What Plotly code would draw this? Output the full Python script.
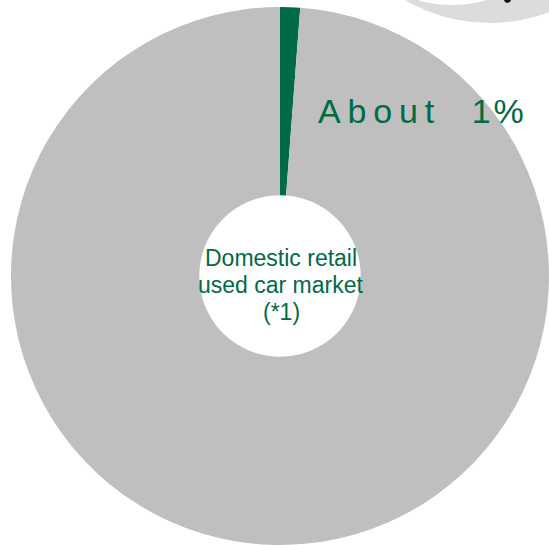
import plotly.graph_objects as go

# Share of the domestic retail used car market
segments = ["Our share", "Rest of market"]
shares = [1.2, 98.8]
colors = ["#006B45", "#BFBFBF"]

THIN = "\u2009"
HAIR = "\u200a"
NBSP = "\u00a0"
share_label = THIN.join("About") + NBSP * 4 + "1" + HAIR + "%"
center_lines = ["Domestic retail", "used car market", "(*1)"]

W, H = 549, 545
GREEN = "#006B45"

fig = go.Figure()
fig.add_trace(go.Pie(
    labels=segments,
    values=shares,
    hole=0.30,
    sort=False,
    direction="clockwise",
    rotation=0,
    marker=dict(colors=colors, line=dict(width=0)),
    textinfo="none",
    hoverinfo="label+percent",
    showlegend=False,
    domain=dict(x=[0.0200, 1.0], y=[0.0, 0.9872]),
))


def px(x, y):
    return x / W, 1 - y / H


# Partial light-grey ring peeking in at the top right corner
def circle(cx, cy, r, color):
    return dict(
        type="circle", xref="paper", yref="paper", layer="below",
        x0=(cx - r) / W, x1=(cx + r) / W,
        y0=1 - (cy + r) / H, y1=1 - (cy - r) / H,
        fillcolor=color, line=dict(width=0),
    )


# small dark glyph tail cut by the top edge
tail = [(504, 0), (511, 0), (510, 2), (507, 3), (505, 2)]
tail_path = "M " + " L ".join(f"{px(x, y)[0]:.5f},{px(x, y)[1]:.5f}" for x, y in tail) + " Z"

fig.update_layout(shapes=[
    circle(490, 23 - 169, 169, "#DCDCDC"),
    circle(452, 5 - 120, 120, "#FFFFFF"),
    dict(type="path", xref="paper", yref="paper", layer="below",
         path=tail_path, fillcolor="#111111", line=dict(width=0)),
])

annotations = [
    dict(text=share_label, x=316 / W, y=1 - 111 / H, xref="paper", yref="paper",
         xanchor="left", yanchor="middle", showarrow=False,
         font=dict(family="Liberation Sans, Arial", size=34, color=GREEN)),
]
for i, line in enumerate(center_lines):
    annotations.append(dict(
        text=line, x=281 / W, y=1 - (258 + 27 * i) / H,
        xref="paper", yref="paper", xanchor="center", yanchor="middle",
        showarrow=False,
        font=dict(family="Liberation Sans, Arial", size=23, color=GREEN),
    ))

fig.update_layout(
    width=W, height=H,
    margin=dict(l=0, r=0, t=0, b=0),
    paper_bgcolor="white",
    plot_bgcolor="white",
    annotations=annotations,
)

fig.write_html("out.html")
